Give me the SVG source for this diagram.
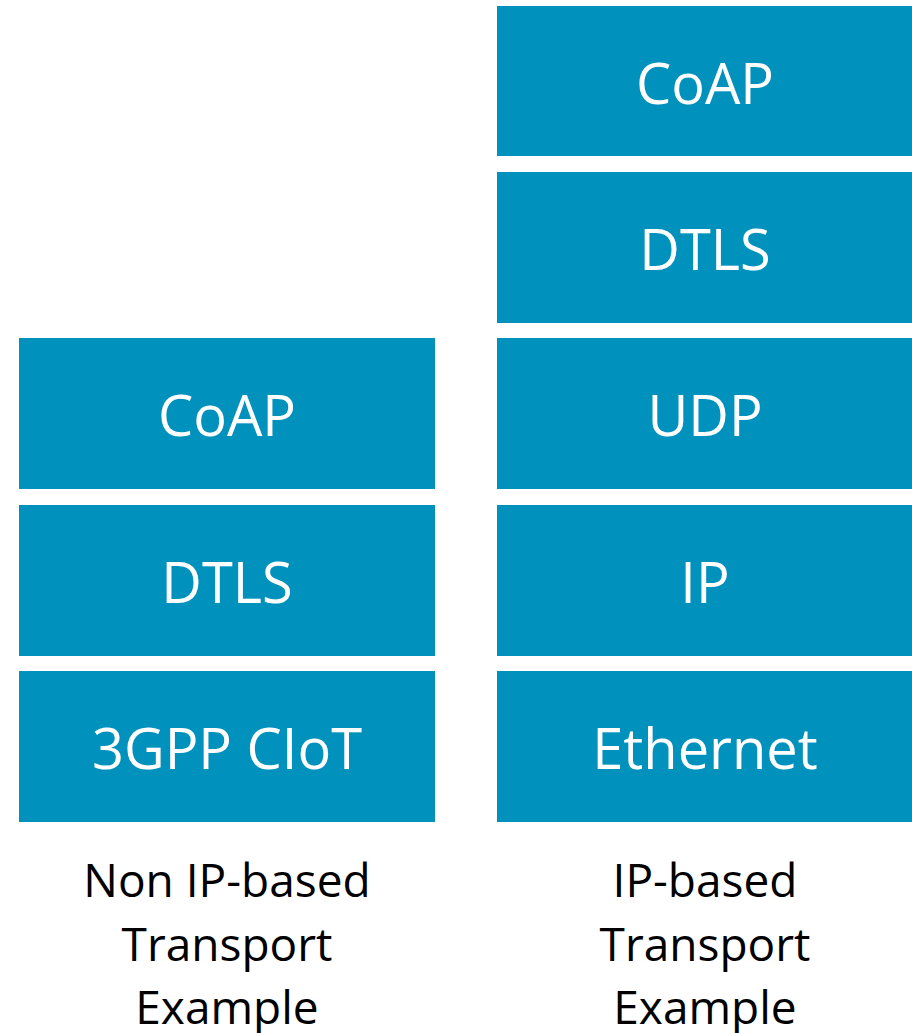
<svg xmlns="http://www.w3.org/2000/svg" width="912" height="1033" viewBox="0 0 912 1033">
<style>
.box{fill:#0091BD}
.lbl{font-family:"Open Sans","Liberation Sans",sans-serif;font-size:56px;fill:#FFFFFF;text-anchor:middle}
.cap{font-family:"Open Sans","Liberation Sans",sans-serif;font-size:46px;fill:#000000;text-anchor:middle}
</style>
<rect width="912" height="1033" fill="#FFFFFF"/>
<g id="left-coap"><rect class="box" x="19" y="338" width="416" height="151"/><text class="lbl" x="227" y="436">CoAP</text></g>
<g id="left-dtls"><rect class="box" x="19" y="505" width="416" height="151"/><text class="lbl" x="227" y="603">DTLS</text></g>
<g id="left-3gpp"><rect class="box" x="19" y="671" width="416" height="151"/><text class="lbl" x="227" y="769">3GPP CIoT</text></g>
<g id="right-coap"><rect class="box" x="497" y="6" width="415" height="150"/><text class="lbl" x="705" y="104">CoAP</text></g>
<g id="right-dtls"><rect class="box" x="497" y="172" width="415" height="151"/><text class="lbl" x="705" y="270">DTLS</text></g>
<g id="right-udp"><rect class="box" x="497" y="338" width="415" height="151"/><text class="lbl" x="705" y="436">UDP</text></g>
<g id="right-ip"><rect class="box" x="497" y="505" width="415" height="151"/><text class="lbl" x="705" y="603">IP</text></g>
<g id="right-eth"><rect class="box" x="497" y="671" width="415" height="151"/><text class="lbl" x="705" y="769">Ethernet</text></g>
<g id="left-caption"><text class="cap" x="227" y="897">Non IP-based</text><text class="cap" x="227" y="961">Transport</text><text class="cap" x="227" y="1024">Example</text></g>
<g id="right-caption"><text class="cap" x="705" y="897">IP-based</text><text class="cap" x="705" y="961">Transport</text><text class="cap" x="705" y="1024">Example</text></g>
<g id="connectors"/>
</svg>
